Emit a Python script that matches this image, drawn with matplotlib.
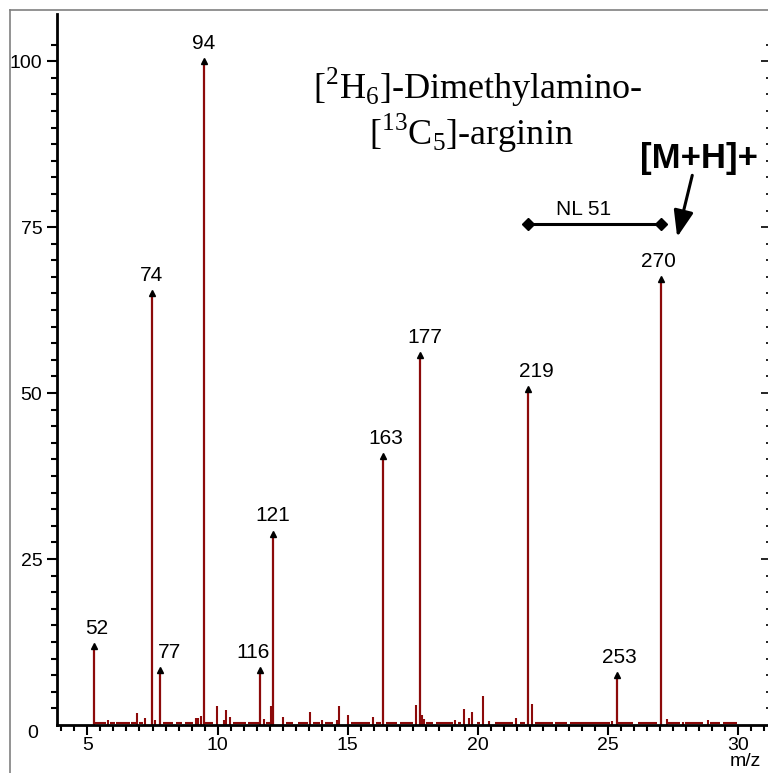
import numpy as np
import matplotlib
matplotlib.use('Agg')
import matplotlib.pyplot as plt
from matplotlib.lines import Line2D
from matplotlib.ticker import FixedLocator, MultipleLocator, NullFormatter

plt.rcParams['font.family'] = ['Liberation Sans', 'DejaVu Sans']
plt.rcParams['mathtext.fontset'] = 'custom'
plt.rcParams['mathtext.rm'] = 'Liberation Serif'

# labelled peaks
peak_x = [5.26, 7.47, 7.79, 9.48, 11.63, 12.12, 16.35, 17.76, 21.93, 25.35, 27.05]
peak_h = [11.9, 65.0, 8.3, 100.0, 8.3, 28.8, 40.5, 55.7, 50.6, 7.5, 67.2]
peak_lab = ['52', '74', '77', '94', '116', '121', '163', '177', '219', '253', '270']
lab_dx = [2, 0, 7, 0, -5, 0, 2, 4, 6, 2, -2]   # label nudge (points)

# small unlabelled peaks
small_x = [5.79, 6.9, 7.21, 7.6, 9.17, 9.25, 9.37, 9.98, 10.25, 10.33, 10.48,
           11.79, 12.06, 12.52, 13.56, 14.02, 14.6, 14.67, 15.02, 15.98,
           17.63, 17.87, 17.94, 19.13, 19.48, 19.67, 19.79, 20.21, 20.44,
           21.48, 22.1, 25.17, 27.25, 27.87, 28.83]
small_h = [0.8, 1.8, 1.1, 0.75, 1.1, 1.1, 1.4, 2.8, 0.75, 2.3, 1.25,
           0.9, 2.8, 1.25, 2.0, 0.75, 0.75, 2.9, 1.5, 1.25,
           3.0, 1.5, 0.9, 0.75, 2.4, 1.1, 2.0, 4.3, 0.6,
           1.1, 3.1, 0.6, 0.9, 0.5, 0.75]

# baseline noise stretches (start, end)
noise_start = [5.2, 5.85, 6.1, 6.68, 7.0, 7.9, 8.41, 8.73, 9.5, 10.59, 11.17,
               11.87, 12.64, 13.09, 13.67, 14.12, 15.14, 16.1, 16.49, 17.0,
               18.02, 18.41, 19.24, 19.95, 20.65, 21.62, 22.19, 22.96, 23.54,
               25.4, 26.17, 27.32, 27.96, 28.92, 29.43]
noise_end = [5.72, 6.04, 6.62, 6.87, 7.13, 8.28, 8.64, 9.05, 9.82, 11.1, 11.62,
             12.0, 12.9, 13.47, 13.92, 14.44, 15.85, 16.29, 16.9, 17.51,
             18.28, 19.05, 19.37, 20.08, 21.36, 21.81, 22.9, 23.41, 25.08,
             25.97, 26.87, 27.77, 28.67, 29.31, 29.95]

red = '#8c0a0a'

fig = plt.figure(figsize=(7.68, 7.73), dpi=100)
ax = fig.add_axes([57/768, 48/773, 711/768, 711/773])

ax.hlines([0.35] * len(noise_start), noise_start, noise_end, color=red, lw=1.5)
ax.vlines(small_x, 0, small_h, color=red, lw=1.5)
ax.vlines(peak_x, 0, peak_h, color=red, lw=1.6)
ax.plot(peak_x, peak_h, '^', color='black', ms=4.5, zorder=4)
for x, h, t, dx in zip(peak_x, peak_h, peak_lab, lab_dx):
    ax.annotate(t, (x, h), xytext=(dx, 6), textcoords='offset points',
                ha='center', va='bottom', fontsize=15)

ax.set_xlim(3.83, 31.15)
ax.set_ylim(0, 107.1)

for s in ['top', 'right']:
    ax.spines[s].set_visible(False)
for s in ['left', 'bottom']:
    ax.spines[s].set_linewidth(2)

ax.xaxis.set_major_locator(FixedLocator([5, 10, 15, 20, 25, 30]))
ax.xaxis.set_minor_locator(MultipleLocator(0.5))
ax.yaxis.set_major_locator(FixedLocator([25, 50, 75, 100]))
ax.yaxis.set_minor_locator(FixedLocator(np.arange(2.5, 103, 2.5)))
ax.tick_params(axis='both', which='major', labelsize=14, width=1.5, length=7.5)
ax.tick_params(axis='both', which='minor', width=1.5, length=4)
ax.tick_params(axis='x', which='both', pad=1)
ax.tick_params(axis='y', which='major', length=7.5, pad=3)

# right-hand tick column, pointing inward
ax2 = ax.twinx()
ax2.set_ylim(ax.get_ylim())
for s in ['top', 'right', 'left', 'bottom']:
    ax2.spines[s].set_visible(False)
ax2.yaxis.set_major_locator(FixedLocator([25, 50, 75, 100]))
ax2.yaxis.set_minor_locator(FixedLocator(np.arange(2.5, 103, 2.5)))
ax2.yaxis.set_major_formatter(NullFormatter())
ax2.tick_params(axis='y', which='major', direction='in', length=5, width=1.2)
ax2.tick_params(axis='y', which='minor', direction='in', length=1.5, width=1.2)

ax.text(-0.027, -0.012, '0', transform=ax.transAxes, ha='right', va='center',
        fontsize=14)
ax.text(0.968, -0.051, 'm/z', transform=ax.transAxes, ha='center', va='center',
        fontsize=14)

# compound name
ax.text(0.592, 0.897, r'[$^{2}$H$_{6}$]-Dimethylamino-', transform=ax.transAxes,
        ha='center', va='center', fontsize=26, family='Liberation Serif')
ax.text(0.582, 0.832, r'[$^{13}$C$_{5}$]-arginin', transform=ax.transAxes,
        ha='center', va='center', fontsize=26, family='Liberation Serif')

# neutral loss bar
ax.plot([21.93, 27.05], [75.4, 75.4], color='black', lw=2.2, marker='D', ms=6)
ax.text(24.05, 77.6, 'NL 51', ha='center', va='center', fontsize=15)

# precursor arrow
ax.annotate('', xy=(27.66, 73.5), xytext=(28.24, 82.8),
            arrowprops=dict(arrowstyle='-|>,head_length=0.8,head_width=0.3',
                            mutation_scale=20, shrinkA=0, shrinkB=0,
                            color='black', lw=2.2))
ax.text(28.5, 85.4, '[M+H]+', ha='center', va='center', fontsize=25,
        fontweight='bold')

# outer frame
fig.add_artist(Line2D([10/768, 10/768], [0, 1 - 10/773], color='#808080', lw=1.2))
fig.add_artist(Line2D([10/768, 1], [1 - 10/773, 1 - 10/773], color='#808080', lw=1.2))

fig.savefig('out.png', dpi=100)
